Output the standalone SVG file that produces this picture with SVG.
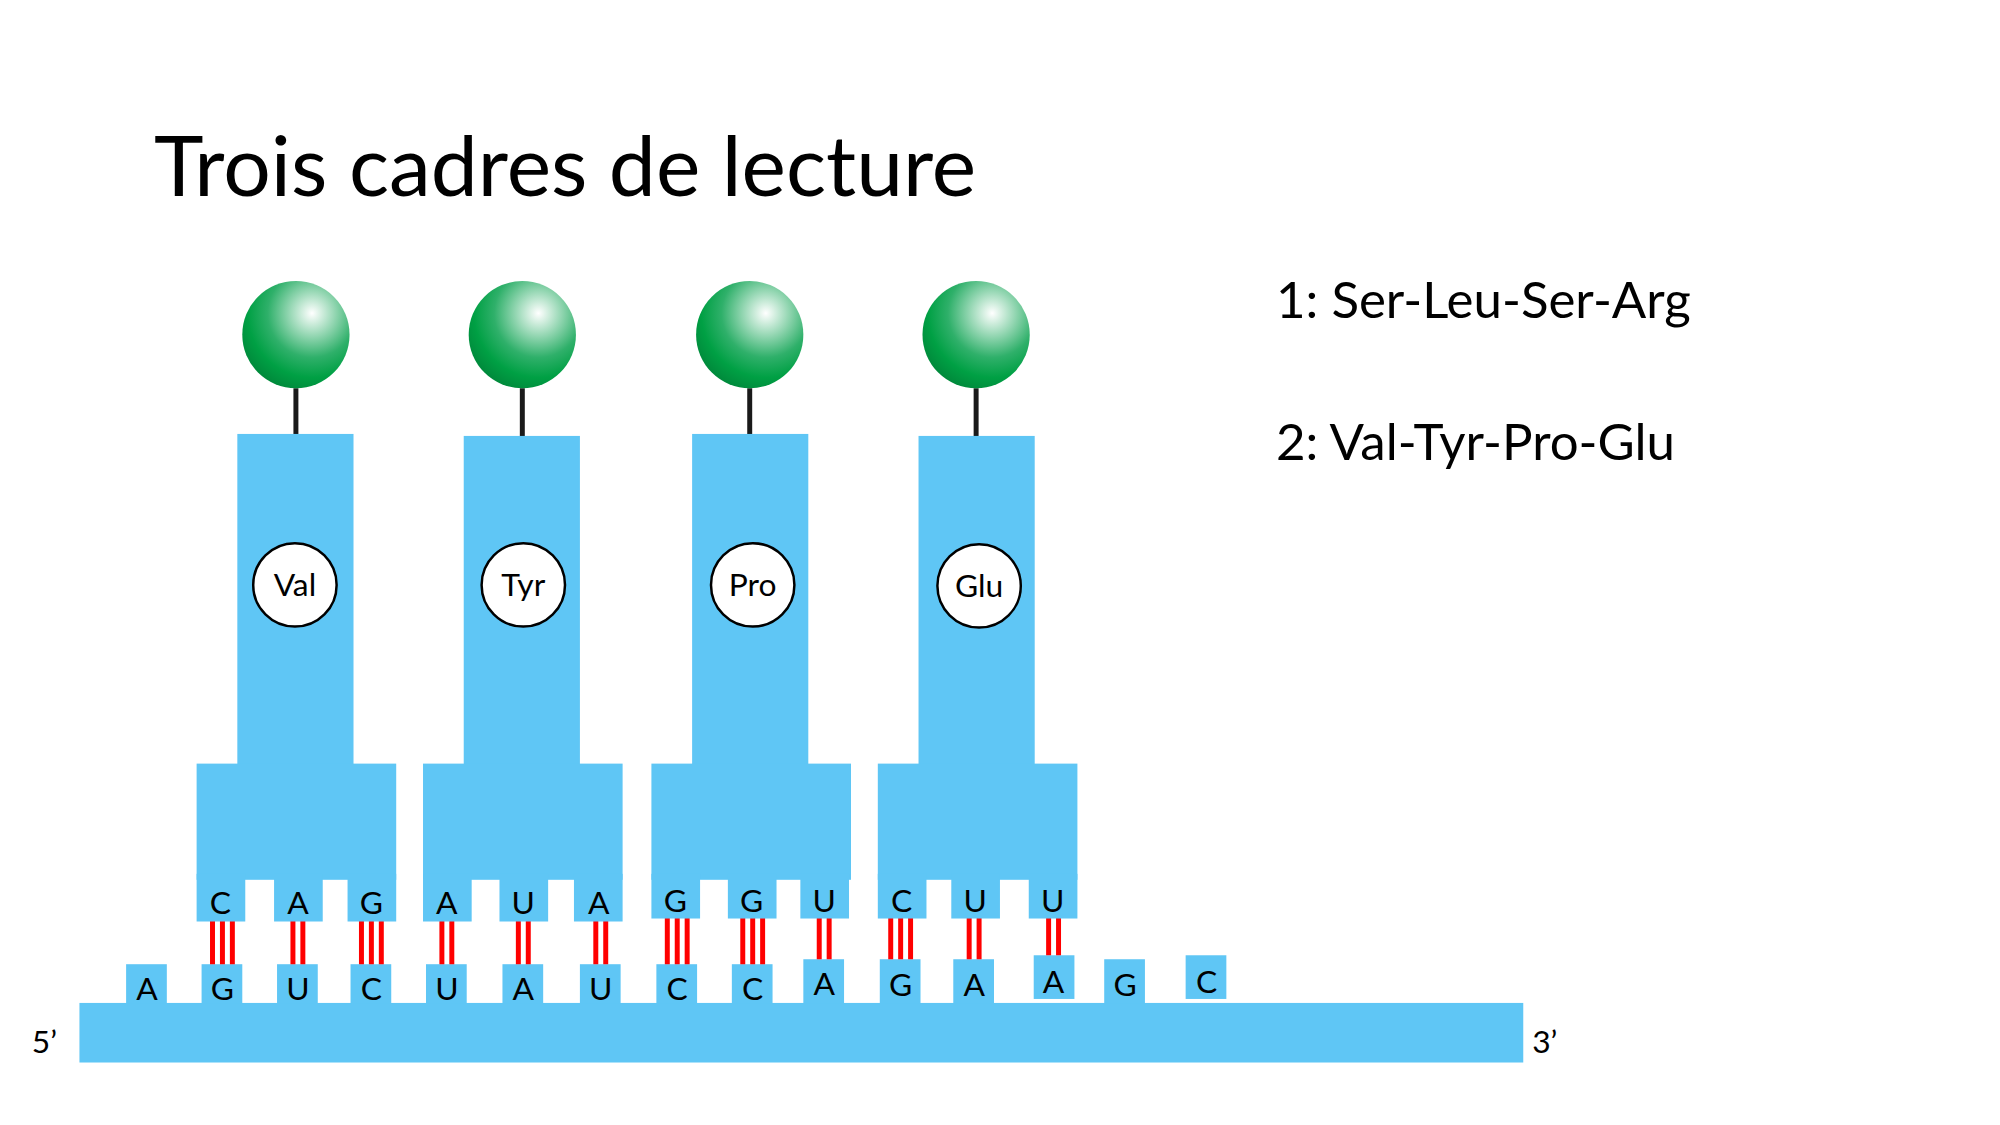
<svg xmlns="http://www.w3.org/2000/svg" width="2000" height="1125" viewBox="0 0 2000 1125">
<defs>
<radialGradient id="g" cx="0.65" cy="0.3" r="0.75">
<stop offset="0" stop-color="#ffffff"/>
<stop offset="0.55" stop-color="#2fb06a"/>
<stop offset="0.8" stop-color="#00a044"/>
<stop offset="1" stop-color="#00893b"/>
</radialGradient>
<style>
.b{fill:#5fc6f5}
.t{font-family:Lato,"Open Sans",sans-serif;fill:#000}
.n{font-size:32px;text-anchor:middle}
.r{stroke:#ff0000;stroke-width:5}
.k{stroke:#1a1a1a;stroke-width:5}
.c{fill:#fff;stroke:#000;stroke-width:2.5}
</style>
</defs>
<rect width="2000" height="1125" fill="#fff"/>
<text class="t" x="154" y="196" font-size="84">Trois cadres de lecture</text>
<text class="t" x="1276" y="318" font-size="51">1: Ser-Leu-Ser-Arg</text>
<text class="t" x="1276" y="460" font-size="51">2: Val-Tyr-Pro-Glu</text>
<g transform="scale(0.993)">
<g id="mrna">
<rect class="b" x="80" y="1010" width="1454" height="60"/>
<text class="t" x="32" y="1060" font-size="32">5’</text>
<text class="t" x="1543" y="1060" font-size="32">3’</text>
<g class="b">
<rect x="127" y="971" width="41" height="40"/><rect x="203" y="971" width="41" height="40"/><rect x="279" y="971" width="41" height="40"/>
<rect x="353" y="971" width="41" height="40"/><rect x="429" y="971" width="41" height="40"/><rect x="506" y="971" width="41" height="40"/>
<rect x="584" y="971" width="41" height="40"/><rect x="661" y="971" width="41" height="40"/><rect x="737" y="971" width="41" height="40"/>
<rect x="809" y="966" width="41" height="45"/><rect x="886" y="966" width="41" height="45"/><rect x="960" y="966" width="41" height="45"/>
<rect x="1041" y="962" width="41" height="44"/><rect x="1112" y="966" width="41" height="45"/><rect x="1194" y="962" width="41" height="44"/>
</g>
<g class="t n">
<text x="148" y="1007">A</text><text x="224" y="1007">G</text><text x="300" y="1007">U</text><text x="374" y="1007">C</text>
<text x="450" y="1007">U</text><text x="527" y="1007">A</text><text x="605" y="1007">U</text><text x="682" y="1007">C</text>
<text x="758" y="1007">C</text><text x="830" y="1002">A</text><text x="907" y="1003">G</text><text x="981" y="1003">A</text>
<text x="1061" y="1000">A</text><text x="1133" y="1003">G</text><text x="1215" y="1000">C</text>
</g>
</g>

<g id="connectors">
<g class="r">
<path d="M214 927V971M224 927V971M234 927V971"/>
<path d="M295 927V971M305 927V971"/>
<path d="M364 927V971M374 927V971M384 927V971"/>
<path d="M445 927V971M455 927V971"/>
<path d="M522 927V971M532 927V971"/>
<path d="M600 927V971M610 927V971"/>
<path d="M672 924V971M682 924V971M692 924V971"/>
<path d="M748 924V971M758 924V971M768 924V971"/>
<path d="M825 924V966M835 924V966"/>
<path d="M897 924V966M907 924V966M917 924V966"/>
<path d="M976 924V966M986 924V966"/>
<path d="M1056 924V962M1066 924V962"/>
</g>
<g class="k">
<path d="M298 391V437M526 391V439M755 391V437M983 391V439"/>
</g>
</g>

<g id="trna-val">
<circle cx="298" cy="337" r="54" fill="url(#g)"/>
<rect class="b" x="239" y="437" width="117" height="335"/>
<rect class="b" x="198" y="769" width="201" height="117"/>
<rect class="b" x="198" y="880" width="49" height="48"/><rect class="b" x="276" y="880" width="49" height="48"/><rect class="b" x="350" y="880" width="49" height="48"/>
<g class="t n"><text x="222" y="920">C</text><text x="300" y="920">A</text><text x="374" y="920">G</text></g>
<circle class="c" cx="297" cy="589" r="42"/>
<text class="t n" x="297" y="600">Val</text>
</g>

<g id="trna-tyr">
<circle cx="526" cy="337" r="54" fill="url(#g)"/>
<rect class="b" x="467" y="439" width="117" height="333"/>
<rect class="b" x="426" y="769" width="201" height="117"/>
<rect class="b" x="426" y="880" width="49" height="48"/><rect class="b" x="503" y="880" width="49" height="48"/><rect class="b" x="578" y="880" width="49" height="48"/>
<g class="t n"><text x="450" y="920">A</text><text x="527" y="920">U</text><text x="603" y="920">A</text></g>
<circle class="c" cx="527" cy="589" r="42"/>
<text class="t n" x="527" y="600">Tyr</text>
</g>

<g id="trna-pro">
<circle cx="755" cy="337" r="54" fill="url(#g)"/>
<rect class="b" x="697" y="437" width="117" height="335"/>
<rect class="b" x="656" y="769" width="201" height="117"/>
<rect class="b" x="656" y="880" width="49" height="45"/><rect class="b" x="733" y="880" width="49" height="45"/><rect class="b" x="806" y="880" width="49" height="45"/>
<g class="t n"><text x="680" y="918">G</text><text x="757" y="918">G</text><text x="830" y="918">U</text></g>
<circle class="c" cx="758" cy="589" r="42"/>
<text class="t n" x="758" y="600">Pro</text>
</g>

<g id="trna-glu">
<circle cx="983" cy="337" r="54" fill="url(#g)"/>
<rect class="b" x="925" y="439" width="117" height="333"/>
<rect class="b" x="884" y="769" width="201" height="117"/>
<rect class="b" x="884" y="880" width="49" height="45"/><rect class="b" x="958" y="880" width="49" height="45"/><rect class="b" x="1036" y="880" width="49" height="45"/>
<g class="t n"><text x="908" y="918">C</text><text x="982" y="918">U</text><text x="1060" y="918">U</text></g>
<circle class="c" cx="986" cy="590" r="42"/>
<text class="t n" x="986" y="601">Glu</text>
</g>
</g>
</svg>
